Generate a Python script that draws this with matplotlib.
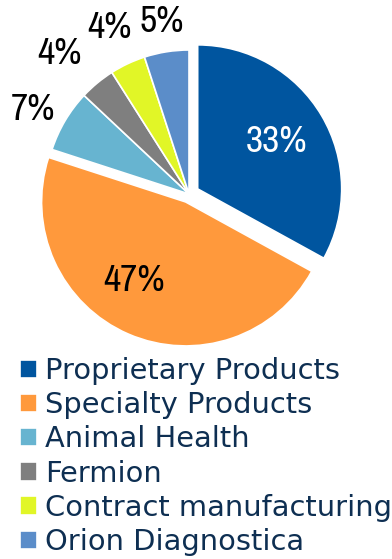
import numpy as np
import matplotlib
matplotlib.use("Agg")
import matplotlib.pyplot as plt
from matplotlib import font_manager
from matplotlib.font_manager import FontProperties

# ---- data ----
categories = ["Proprietary Products", "Specialty Products", "Animal Health",
              "Fermion", "Contract manufacturing", "Orion Diagnostica"]
shares = [33, 47, 7, 4, 4, 5]
pct_labels = ["33%", "47%", "7%", "4%", "4%", "5%"]

# ---- style ----
colors = ["#00559F", "#FF993C", "#67B4D0", "#7F7F7F", "#E1F627", "#5B8DC9"]
explode = [0.07, 0.06, 0, 0, 0, 0]
label_dist = [0.71, 0.71, 1.23, 1.33, 1.28, 1.21]
label_nudge = [0, -9, 2, 3, 0.5, 0]
label_colors = ["white", "black", "black", "black", "black", "black"]

W, H = 392, 559
cx, cy, r = 189, 194, 144  # pixel centre & radius

# pick a narrow font for the percentages if one is installed
pct_prop = None
for f in font_manager.fontManager.ttflist:
    if f.style == "normal" and f.weight in (400, "normal", "regular"):
        if "Narrow" in f.name or (f.name in ("Roboto", "Open Sans", "Noto Sans")
                                  and str(f.stretch) in ("condensed", "semi-condensed", "75", "87.5")):
            pct_prop = FontProperties(fname=f.fname, size=27)
            break
if pct_prop is None:
    pct_prop = FontProperties(family="Roboto", size=27)

fig = plt.figure(figsize=(W / 100, H / 100), dpi=100)
ax = fig.add_axes([0, 0, 1, 1])
wedges, _ = ax.pie(shares, colors=colors, explode=explode, startangle=90,
                   counterclock=False, radius=1,
                   wedgeprops=dict(edgecolor="white", linewidth=1.2))
ax.set_xlim(-cx / r, (W - cx) / r)
ax.set_ylim(-(H - cy) / r, cy / r)
ax.set_aspect("equal", adjustable="box")
ax.axis("off")

for w, lab, d, nud, col in zip(wedges, pct_labels, label_dist, label_nudge, label_colors):
    ang = np.deg2rad(0.5 * (w.theta1 + w.theta2) + nud)
    ax.text(d * np.cos(ang), d * np.sin(ang), lab, ha="center", va="center",
            color=col, fontproperties=pct_prop)

leg = fig.legend(wedges, categories, loc="upper left",
                 bbox_to_anchor=(20 / W, 1 - 357 / H), frameon=False,
                 prop=dict(family="DejaVu Sans", size=20.8),
                 handlelength=0.6, handleheight=0.6, handletextpad=0.28,
                 labelspacing=0.215, borderpad=0, borderaxespad=0)
for t in leg.get_texts():
    t.set_color("#0E2F52")

fig.savefig("out.png", dpi=100)
